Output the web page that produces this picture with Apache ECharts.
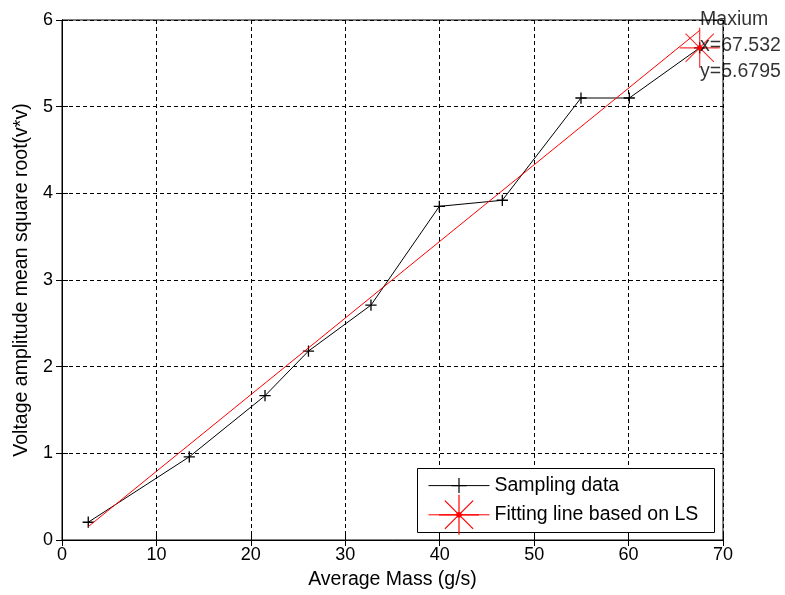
<!DOCTYPE html>
<html>
<head>
<meta charset="utf-8">
<script src="https://cdn.jsdelivr.net/npm/echarts@6/dist/echarts.min.js"></script>
<style>
html,body{margin:0;padding:0;background:#fff;}
#chart{width:785px;height:595px;}
</style>
</head>
<body>
<div id="chart"></div>
<script>
// ---- data ----
const sampleX = [2.78, 13.48, 21.5, 26.1, 32.72, 39.96, 46.63, 54.96, 60.08, 67.532];
const sampleY = [0.205, 0.96, 1.665, 2.18, 2.71, 3.85, 3.92, 5.10, 5.10, 5.6795];
const fitX = [2.78, 67.532];
const fitY = [0.154, 5.88];
const maxPoint = [67.532, 5.6795];
const maxTitle = 'Maxium';
const seriesNames = ['Sampling data', 'Fitting line based on LS'];
const xTicks = [0, 10, 20, 30, 40, 50, 60, 70];
const yTicks = [0, 1, 2, 3, 4, 5, 6];
const xName = 'Average Mass (g/s)';
const yName = 'Voltage amplitude mean square root(v*v)';

const FONT = 'Arial, "Liberation Sans", sans-serif';
const TXT = '#000';
const plusPath = 'path://M0,0 M40,40 M20,12.5 L20,27.5 M12.5,20 L27.5,20';
const starPath = 'path://M20,0 L20,40 M0,20 L40,20 M5.86,5.86 L34.14,34.14 M34.14,5.86 L5.86,34.14 M17.8,20 A2.2,2.2 0 1,1 22.2,20 A2.2,2.2 0 1,1 17.8,20 Z';

const chart = echarts.init(document.getElementById('chart'), null, {renderer: 'canvas'});
const sampleData = sampleX.map((x, i) => [x, sampleY[i]]);
const fitData = fitX.map((x, i) => [x, fitY[i]]);

const axisCommon = {
  type: 'value',
  axisLine: {show: true, lineStyle: {color: '#000', width: 1}},
  axisTick: {show: true, inside: true, length: 6, lineStyle: {color: '#000'}},
};

chart.setOption({
  animation: false,
  backgroundColor: '#fff',
  grid: {left: 62, right: 62, top: 20, bottom: 55, show: true, borderColor: '#000', borderWidth: 1, backgroundColor: 'transparent'},
  xAxis: [
    Object.assign({}, axisCommon, {
      min: xTicks[0], max: xTicks[xTicks.length - 1], interval: 10, position: 'bottom',
      name: xName, nameLocation: 'middle', nameGap: 30,
      nameTextStyle: {fontFamily: FONT, fontSize: 19.5, color: TXT},
      axisLabel: {fontFamily: FONT, fontSize: 18, color: TXT, margin: 6},
      splitLine: {show: true, lineStyle: {color: '#000', width: 1, type: [4, 3]}}
    }),
    Object.assign({}, axisCommon, {
      min: xTicks[0], max: xTicks[xTicks.length - 1], interval: 10, position: 'top',
      axisLabel: {show: false}, splitLine: {show: false}
    })
  ],
  yAxis: [
    Object.assign({}, axisCommon, {
      min: yTicks[0], max: yTicks[yTicks.length - 1], interval: 1, position: 'left',
      name: yName, nameLocation: 'middle', nameGap: 30,
      nameTextStyle: {fontFamily: FONT, fontSize: 19.5, color: TXT},
      axisLabel: {fontFamily: FONT, fontSize: 18, color: TXT, margin: 9},
      splitLine: {show: true, lineStyle: {color: '#000', width: 1, type: [4, 3]}}
    }),
    Object.assign({}, axisCommon, {
      min: yTicks[0], max: yTicks[yTicks.length - 1], interval: 1, position: 'right',
      axisLabel: {show: false}, splitLine: {show: false}
    })
  ],
  legend: {
    data: seriesNames,
    orient: 'vertical',
    left: 428, top: 465,
    padding: 0,
    itemWidth: 61, itemHeight: 50, itemGap: -12,
    itemStyle: {borderWidth: 1.2},
    lineStyle: {width: 1},
    textStyle: {fontFamily: FONT, fontSize: 19.5, color: TXT},
    selectedMode: false
  },
  graphic: [{
    type: 'rect', left: 417, top: 468, z: 3,
    shape: {width: 297, height: 64},
    style: {fill: '#fff', stroke: '#000', lineWidth: 1}
  }],
  series: [
    {
      name: seriesNames[0], type: 'line', data: sampleData,
      symbol: plusPath, symbolSize: 30, showSymbol: true,
      itemStyle: {color: '#000', borderColor: '#000', borderWidth: 1.3},
      lineStyle: {color: '#000', width: 1}, z: 4
    },
    {
      name: seriesNames[1], type: 'line', data: fitData,
      symbol: starPath, symbolSize: 40, showSymbol: false,
      itemStyle: {color: '#f00', borderColor: '#f00', borderWidth: 1},
      lineStyle: {color: '#f00', width: 1}, z: 5
    },
    {
      name: 'max', type: 'scatter', data: [maxPoint],
      symbol: starPath, symbolSize: 40,
      itemStyle: {color: '#f00', borderColor: '#f00', borderWidth: 1.2},
      z: 6,
      label: {
        show: true, position: [21, -21], align: 'left', verticalAlign: 'top',
        fontFamily: FONT, fontSize: 19.5, lineHeight: 26, color: TXT,
        formatter: () => maxTitle + '\nx=' + maxPoint[0] + '\ny=' + maxPoint[1]
      }
    }
  ]
});
</script>
</body>
</html>
